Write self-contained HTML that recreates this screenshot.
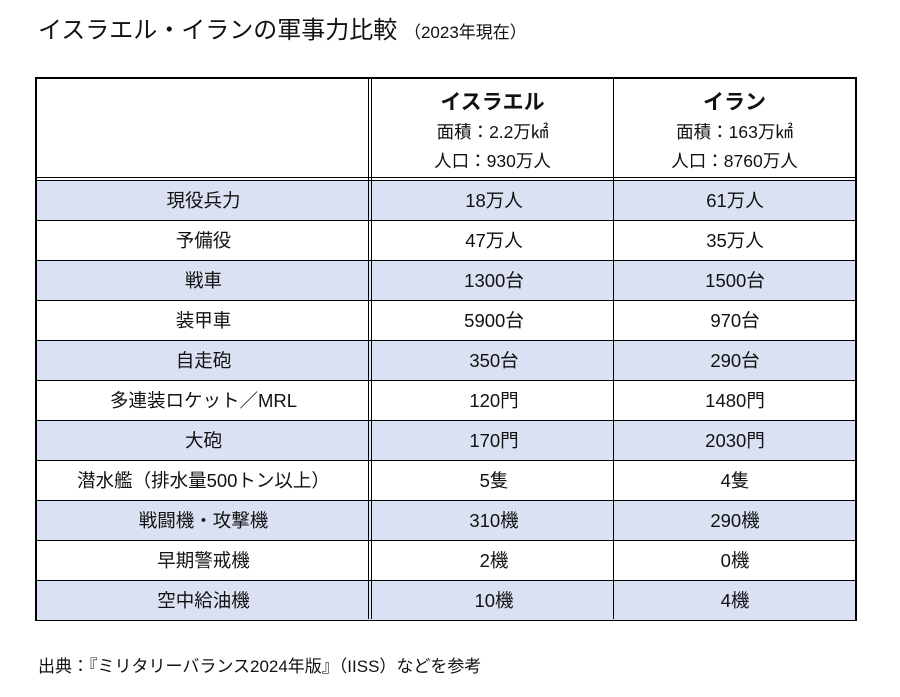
<!DOCTYPE html><html><head><meta charset="utf-8"><style>
body{margin:0;width:900px;height:697px;background:#fff;font-family:"Liberation Sans","Noto Sans CJK JP",sans-serif;color:#111;position:relative;overflow:hidden}
.t{position:absolute;white-space:nowrap}
.box{position:absolute;left:35px;top:77px;width:818px;height:540px;border:2px solid #000}
.row{position:absolute;left:0;width:818px;height:40px;border-top:1px solid #000;font-size:18.5px}
.row div{position:absolute;top:0;height:40px;line-height:40px;text-align:center}
.c1{left:0;width:333px}.c2{left:336px;width:242px}.c3{left:578px;width:240px}
.b{background:#d9e1f2}
</style></head><body>
<div class="t" style="left:38px;top:10px;font-size:24px">イスラエル・イランの軍事力比較 <span style="font-size:17px">（2023年現在）</span></div>
<div class="box">
<div style="position:absolute;left:0;top:98px;width:818px;height:1px;background:#000"></div>
<div class="t" style="left:335px;width:241px;top:7px;text-align:center;font-size:21px;font-weight:bold">イスラエル</div>
<div class="t" style="left:335px;width:241px;top:40px;text-align:center;font-size:17.5px">面積：2.2万㎢</div>
<div class="t" style="left:335px;width:241px;top:69px;text-align:center;font-size:17.5px">人口：930万人</div>
<div class="t" style="left:577px;width:241px;top:7px;text-align:center;font-size:21px;font-weight:bold">イラン</div>
<div class="t" style="left:577px;width:241px;top:40px;text-align:center;font-size:17.5px">面積：163万㎢</div>
<div class="t" style="left:577px;width:241px;top:69px;text-align:center;font-size:17.5px">人口：8760万人</div>
<div class="row b" style="top:101px"><div class="c1">現役兵力</div><div class="c2">18万人</div><div class="c3">61万人</div></div>
<div class="row" style="top:141px"><div class="c1">予備役</div><div class="c2">47万人</div><div class="c3">35万人</div></div>
<div class="row b" style="top:181px"><div class="c1">戦車</div><div class="c2">1300台</div><div class="c3">1500台</div></div>
<div class="row" style="top:221px"><div class="c1">装甲車</div><div class="c2">5900台</div><div class="c3">970台</div></div>
<div class="row b" style="top:261px"><div class="c1">自走砲</div><div class="c2">350台</div><div class="c3">290台</div></div>
<div class="row" style="top:301px"><div class="c1">多連装ロケット／MRL</div><div class="c2">120門</div><div class="c3">1480門</div></div>
<div class="row b" style="top:341px"><div class="c1">大砲</div><div class="c2">170門</div><div class="c3">2030門</div></div>
<div class="row" style="top:381px"><div class="c1">潜水艦（排水量500トン以上）</div><div class="c2">5隻</div><div class="c3">4隻</div></div>
<div class="row b" style="top:421px"><div class="c1">戦闘機・攻撃機</div><div class="c2">310機</div><div class="c3">290機</div></div>
<div class="row" style="top:461px"><div class="c1">早期警戒機</div><div class="c2">2機</div><div class="c3">0機</div></div>
<div class="row b" style="top:501px;height:39px"><div class="c1">空中給油機</div><div class="c2">10機</div><div class="c3">4機</div></div>
<div style="position:absolute;left:331px;top:0;width:1px;height:540px;background:#000"></div>
<div style="position:absolute;left:334px;top:0;width:1px;height:540px;background:#000"></div>
<div style="position:absolute;left:576px;top:0;width:1px;height:540px;background:#000"></div>
</div>
<div class="t" style="left:38px;top:652px;font-size:17px">出典：『ミリタリーバランス2024年版』（IISS）などを参考</div>
</body></html>
